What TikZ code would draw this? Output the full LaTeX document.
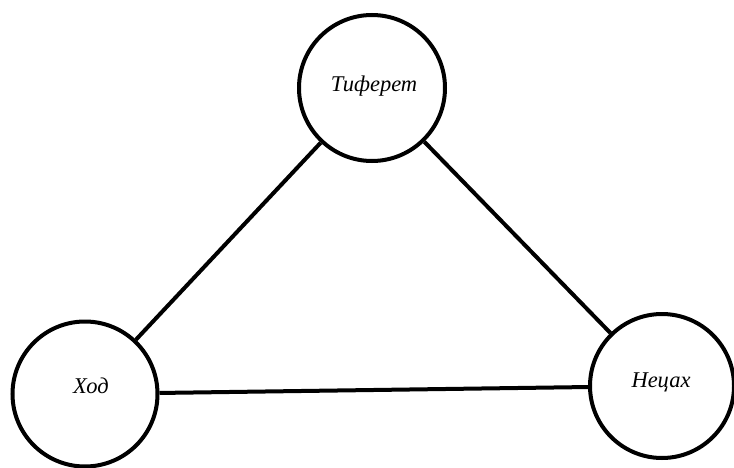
\documentclass[tikz,border=0pt]{standalone}
\usepackage{fontspec}
\setmainfont{Liberation Serif}
\begin{document}
\begin{tikzpicture}[x=1pt,y=-1pt,
  sefira/.style={circle,draw=black,line width=4pt,minimum size=#1,inner sep=0pt},
  lbl/.style={font=\fontsize{22.5}{26}\selectfont\itshape,anchor=base,inner sep=0pt},
  conn/.style={line width=4pt}]
\useasboundingbox (0,0) rectangle (734,468);
\node[sefira=146pt] (tif) at (372,88) {};
\node[sefira=145pt] (hod) at (85,394) {};
\node[sefira=144pt] (nez) at (662,386) {};
\node[lbl] (tift) at (374,92) {Тиферет};
\node[lbl] (hodt) at (91,393) {Ход};
\node[lbl] (nezt) at (661,387) {Нецах};
\draw[conn] (tif) -- (hod);
\draw[conn] (tif) -- (nez);
\draw[conn] (hod) -- (nez);
\end{tikzpicture}
\end{document}
